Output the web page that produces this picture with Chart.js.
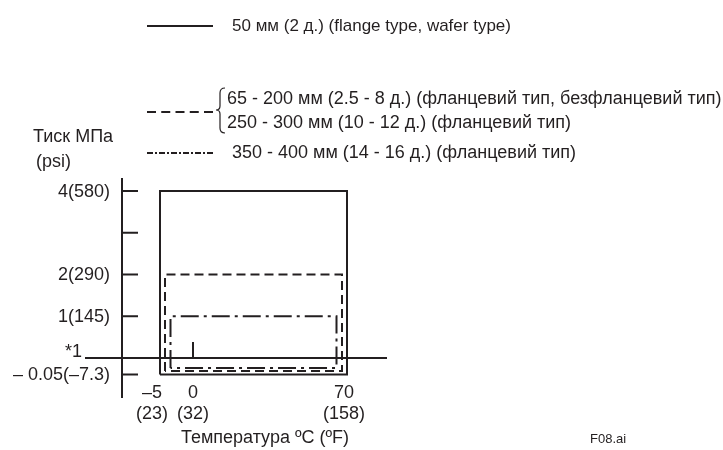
<!DOCTYPE html>
<html><head><meta charset="utf-8">
<script src="https://cdn.jsdelivr.net/npm/chart.js@4/dist/chart.umd.min.js"></script>
<style>html,body{margin:0;padding:0;background:#fff}#wrap{width:723px;height:450px;position:relative}</style>
</head><body><div id="wrap"><canvas id="c" width="723" height="450"></canvas></div>
<script>
// ---- data ----
const tempTicksC = [-5, 0, 70];
const tempLabelsC = ['–5', '0', '70'];
const tempLabelsF = ['(23)', '(32)', '(158)'];
const pressureTicks = [-0.05, 1, 2, 3, 4];
const pressureTickLabels = ['– 0.05(–7.3)', '1(145)', '2(290)', '', '4(580)'];
const baseLevel = 0;            // the "*1" level (horizontal axis)
const baseLevelLabel = '*1';
const seriesNames = ['50 мм (2 д.) (flange type, wafer type)',
  '65 - 200 мм (2.5 - 8 д.) (фланцевий тип, безфланцевий тип)|250 - 300 мм (10 - 12 д.) (фланцевий тип)',
  '350 - 400 мм (14 - 16 д.) (фланцевий тип)'];
const minTempC = [-5, -5, -5];
const maxTempC = [70, 70, 70];
const minPressure = [-0.05, -0.05, -0.05];
const maxPressure = [4, 2, 1];
const yTitle = ['Тиск МПа', '(psi)'];
const xTitle = 'Температура ºC (ºF)';
const figId = 'F08.ai';

const INK = '#231f20';
const FONT = '"Liberation Sans", Arial, sans-serif';

// ---- broken (piecewise linear) scale ----
class BrokenScale extends Chart.LinearScale {
  _frac(v) {
    const k = this.options.knots;
    for (let i = 1; i < k.length; i++) {
      if (v <= k[i][0] || i === k.length - 1) {
        const [v0, f0] = k[i - 1], [v1, f1] = k[i];
        return f0 + (v - v0) / (v1 - v0) * (f1 - f0);
      }
    }
  }
  getPixelForValue(v) {
    const f = this._frac(v);
    return this.isHorizontal() ? this.left + f * this.width : this.bottom - f * this.height;
  }
  getValueForPixel(p) {
    const f = this.isHorizontal() ? (p - this.left) / this.width : (this.bottom - p) / this.height;
    const k = this.options.knots;
    for (let i = 1; i < k.length; i++) {
      if (f <= k[i][1] || i === k.length - 1) {
        const [v0, f0] = k[i - 1], [v1, f1] = k[i];
        return v0 + (f - f0) / (f1 - f0) * (v1 - v0);
      }
    }
  }
}
BrokenScale.id = 'broken';
BrokenScale.defaults = Object.assign({}, Chart.LinearScale.defaults);
Chart.register(BrokenScale);

// ---- datasets ----
const styles = [
  { dash: [], insetX: 0, insetBottom: 0 },
  { dash: [9, 5], insetX: 5, insetBottom: 3.5 },
  { dash: [18, 5, 3, 5], insetX: 10.5, insetBottom: 6.5 }
];
const legendDash = [[], [9, 5.25], [6, 2, 2, 2]];

const datasets = seriesNames.map((name, i) => ({
  label: name,
  data: [
    { x: minTempC[i], y: minPressure[i] },
    { x: minTempC[i], y: maxPressure[i] },
    { x: maxTempC[i], y: maxPressure[i] },
    { x: maxTempC[i], y: minPressure[i] },
    { x: minTempC[i], y: minPressure[i] }
  ],
  borderColor: INK, borderWidth: 2, borderDash: styles[i].dash,
  pointRadius: 0, tension: 0, fill: false, clip: false,
  borderJoinStyle: 'miter', borderCapStyle: 'butt',
  insetX: styles[i].insetX, insetBottom: styles[i].insetBottom
}));

const decor = {
  id: 'decor',
  afterDatasetsUpdate(chart) {
    chart.data.datasets.forEach((ds, i) => {
      const meta = chart.getDatasetMeta(i);
      const xs = meta.data.map(p => p.x), ys = meta.data.map(p => p.y);
      const cx = (Math.min(...xs) + Math.max(...xs)) / 2;
      const bottom = Math.max(...ys);
      meta.data.forEach(p => {
        if (p.x < cx) p.x += ds.insetX; else p.x -= ds.insetX;
        if (Math.abs(p.y - bottom) < 0.01) p.y -= ds.insetBottom;
      });
    });
  },
  afterDraw(chart) {
    const ctx = chart.ctx, xs = chart.scales.x, ys = chart.scales.y, ca = chart.chartArea;
    ctx.save();
    ctx.strokeStyle = INK; ctx.fillStyle = INK; ctx.lineWidth = 2; ctx.setLineDash([]);
    const axisX = ca.left - 38;
    const axisY = ys.getPixelForValue(baseLevel);
    // y axis
    ctx.beginPath(); ctx.moveTo(axisX, ca.top - 13); ctx.lineTo(axisX, ca.bottom + 23.5); ctx.stroke();
    pressureTicks.forEach(v => {
      const y = ys.getPixelForValue(v);
      ctx.beginPath(); ctx.moveTo(axisX, y); ctx.lineTo(axisX + 16, y); ctx.stroke();
    });
    // x axis
    ctx.beginPath(); ctx.moveTo(85, axisY); ctx.lineTo(ca.right + 40, axisY); ctx.stroke();
    tempTicksC.forEach(v => {
      const x = xs.getPixelForValue(v);
      ctx.beginPath(); ctx.moveTo(x, axisY); ctx.lineTo(x, axisY - 16); ctx.stroke();
    });
    // y tick labels
    ctx.font = '18px ' + FONT; ctx.textAlign = 'right'; ctx.textBaseline = 'middle';
    pressureTicks.forEach((v, i) => {
      if (pressureTickLabels[i]) ctx.fillText(pressureTickLabels[i], axisX - 12, ys.getPixelForValue(v) + 1);
    });
    ctx.fillText(baseLevelLabel, 82, axisY - 6);
    // x tick labels
    ctx.textAlign = 'center';
    tempTicksC.forEach((v, i) => {
      const x = xs.getPixelForValue(v) + (i === 0 ? -8 : (i === 2 ? -3 : 0));
      ctx.fillText(tempLabelsC[i], x, 393);
      ctx.fillText(tempLabelsF[i], x, 414);
    });
    // titles
    ctx.fillText(xTitle, 265, 438);
    ctx.textAlign = 'left';
    ctx.fillText(yTitle[0], 33, 137);
    ctx.fillText(yTitle[1], 36, 162);
    ctx.font = '13px ' + FONT;
    ctx.fillText(figId, 590, 439);
    // legend
    const legY = [26, 112, 153];
    seriesNames.forEach((name, i) => {
      ctx.lineWidth = 2;
      ctx.setLineDash(legendDash[i]);
      ctx.beginPath(); ctx.moveTo(147, legY[i]); ctx.lineTo(213, legY[i]); ctx.stroke();
      ctx.setLineDash([]);
      const parts = name.split('|');
      ctx.font = (i === 0 ? '17px ' : '18px ') + FONT;
      if (parts.length > 1) {
        ctx.fillText(parts[0], 227, 99);
        ctx.fillText(parts[1], 227, 123);
        // brace
        ctx.lineWidth = 1.2;
        ctx.beginPath();
        ctx.moveTo(225, 88); ctx.quadraticCurveTo(220, 88, 220, 93); ctx.lineTo(220, 106);
        ctx.quadraticCurveTo(220, 110, 216, 110);
        ctx.quadraticCurveTo(220, 110, 220, 114); ctx.lineTo(220, 128);
        ctx.quadraticCurveTo(220, 133, 225, 133);
        ctx.stroke();
      } else {
        ctx.fillText(name, 232, legY[i]);
      }
    });
    ctx.restore();
  }
};

new Chart(document.getElementById('c'), {
  type: 'line',
  data: { datasets },
  options: {
    responsive: false, animation: false, devicePixelRatio: 1,
    layout: { padding: { left: 160, top: 191, right: 376, bottom: 75.5 } },
    plugins: { legend: { display: false }, tooltip: { enabled: false } },
    scales: {
      x: { type: 'broken', display: false, min: -5, max: 70, knots: [[-5, 0], [0, 0.1765], [70, 1]] },
      y: { type: 'broken', display: false, min: -0.05, max: 4, knots: [[-0.05, 0], [0, 0.09], [4, 1]] }
    }
  },
  plugins: [decor]
});
</script></body></html>
